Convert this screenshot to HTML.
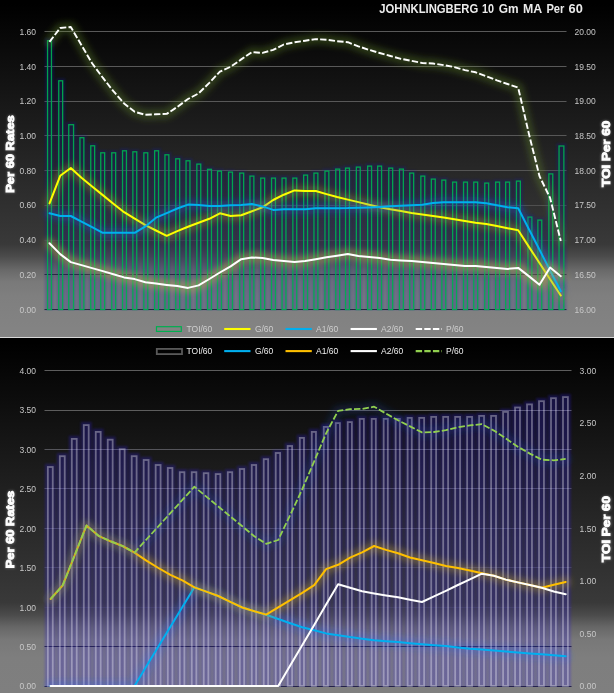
<!DOCTYPE html>
<html><head><meta charset="utf-8"><title>chart</title>
<style>
html,body{margin:0;padding:0;background:#000;}
body{width:614px;height:693px;overflow:hidden;font-family:"Liberation Sans", sans-serif;}
svg{display:block;font-family:"Liberation Sans", sans-serif;will-change:transform;opacity:0.999;}
</style></head><body>
<svg width="614" height="693" viewBox="0 0 614 693">
<defs>
<linearGradient id="bgT" gradientUnits="userSpaceOnUse" x1="0" y1="0" x2="0" y2="337">
<stop offset="0" stop-color="#000000"/>
<stop offset="0.725" stop-color="#3a3a3a"/>
<stop offset="0.76" stop-color="#4c4c4c"/>
<stop offset="0.80" stop-color="#696969"/>
<stop offset="0.835" stop-color="#7a7a7a"/>
<stop offset="0.88" stop-color="#808080"/>
<stop offset="1" stop-color="#858585"/>
</linearGradient>
<linearGradient id="bgB" gradientUnits="userSpaceOnUse" x1="0" y1="338" x2="0" y2="693">
<stop offset="0" stop-color="#000000"/>
<stop offset="0.745" stop-color="#3a3a3a"/>
<stop offset="0.78" stop-color="#4c4c4c"/>
<stop offset="0.815" stop-color="#686868"/>
<stop offset="0.85" stop-color="#797979"/>
<stop offset="0.90" stop-color="#7f7f7f"/>
<stop offset="1" stop-color="#808080"/>
</linearGradient>
<filter id="g3" x="-10%" y="-30%" width="120%" height="160%"><feGaussianBlur stdDeviation="3"/></filter>
<filter id="g2" x="-10%" y="-30%" width="120%" height="160%"><feGaussianBlur stdDeviation="1.8"/></filter>
<filter id="gb" x="-5%" y="-5%" width="110%" height="110%"><feGaussianBlur stdDeviation="2.2"/></filter>
<filter id="gs" x="-2%" y="-2%" width="104%" height="104%"><feGaussianBlur stdDeviation="0.9"/></filter>
<filter id="gs2" x="-2%" y="-2%" width="104%" height="104%"><feGaussianBlur stdDeviation="0.95"/></filter>
<clipPath id="clipB"><rect x="0" y="338" width="614" height="349"/></clipPath>
<clipPath id="clipT"><rect x="0" y="0" width="614" height="311"/></clipPath>
<filter id="gs3" x="-2%" y="-2%" width="104%" height="104%"><feGaussianBlur stdDeviation="1.0"/></filter>
<filter id="gt" x="-30%" y="-30%" width="160%" height="160%"><feGaussianBlur stdDeviation="1.2"/></filter>
</defs>
<rect x="0" y="0" width="614" height="337" fill="url(#bgT)"/>
<rect x="0" y="337" width="614" height="1" fill="#d9d9d9"/>
<rect x="0" y="338" width="614" height="355" fill="url(#bgB)"/>
<line x1="44.5" x2="566.5" y1="31.5" y2="31.5" stroke="#5a5a5a" stroke-width="1"/>
<line x1="44.5" x2="566.5" y1="66.5" y2="66.5" stroke="#5a5a5a" stroke-width="1"/>
<line x1="44.5" x2="566.5" y1="101.5" y2="101.5" stroke="#595959" stroke-width="1"/>
<line x1="44.5" x2="566.5" y1="135.5" y2="135.5" stroke="#585858" stroke-width="1"/>
<line x1="44.5" x2="566.5" y1="170.5" y2="170.5" stroke="#565656" stroke-width="1"/>
<line x1="44.5" x2="566.5" y1="205.5" y2="205.5" stroke="#505050" stroke-width="1"/>
<line x1="44.5" x2="566.5" y1="240.5" y2="240.5" stroke="#484848" stroke-width="1"/>
<line x1="44.5" x2="566.5" y1="274.5" y2="274.5" stroke="#2e2e38" stroke-width="1"/>
<line x1="44.5" x2="566.5" y1="309.5" y2="309.5" stroke="#2c2c36" stroke-width="1"/>
<g clip-path="url(#clipT)" fill="#101ca0" opacity="0.25" filter="url(#gs3)">
<rect x="44.90" y="38.1" width="9.20" height="272.4"/>
<rect x="56.10" y="78.2" width="9.20" height="232.3"/>
<rect x="66.10" y="122.1" width="10.10" height="188.4"/>
<rect x="77.30" y="135.1" width="9.20" height="175.4"/>
<rect x="88.10" y="143.2" width="9.20" height="167.3"/>
<rect x="98.10" y="150.2" width="9.20" height="160.3"/>
<rect x="109.10" y="150.2" width="9.20" height="160.3"/>
<rect x="119.90" y="148.2" width="9.20" height="162.3"/>
<rect x="130.20" y="149.2" width="9.20" height="161.3"/>
<rect x="141.20" y="150.2" width="9.20" height="160.3"/>
<rect x="152.00" y="148.2" width="9.20" height="162.3"/>
<rect x="162.30" y="152.2" width="9.20" height="158.3"/>
<rect x="173.10" y="156.2" width="9.20" height="154.3"/>
<rect x="183.40" y="158.2" width="9.20" height="152.3"/>
<rect x="194.20" y="161.5" width="9.20" height="149.0"/>
<rect x="204.90" y="166.7" width="9.20" height="143.8"/>
<rect x="214.90" y="168.5" width="9.20" height="142.0"/>
<rect x="225.90" y="169.5" width="9.20" height="141.0"/>
<rect x="237.10" y="170.5" width="9.20" height="140.0"/>
<rect x="247.30" y="173.5" width="9.20" height="137.0"/>
<rect x="258.10" y="175.5" width="9.20" height="135.0"/>
<rect x="268.90" y="175.5" width="9.20" height="135.0"/>
<rect x="279.40" y="175.5" width="9.20" height="135.0"/>
<rect x="290.20" y="175.5" width="9.20" height="135.0"/>
<rect x="301.00" y="172.5" width="9.20" height="138.0"/>
<rect x="311.30" y="170.5" width="9.20" height="140.0"/>
<rect x="322.30" y="168.5" width="9.20" height="142.0"/>
<rect x="333.10" y="166.5" width="9.20" height="144.0"/>
<rect x="342.90" y="165.5" width="9.20" height="145.0"/>
<rect x="353.70" y="164.5" width="9.20" height="146.0"/>
<rect x="365.00" y="163.5" width="9.20" height="147.0"/>
<rect x="375.00" y="163.5" width="9.20" height="147.0"/>
<rect x="386.10" y="165.5" width="9.20" height="145.0"/>
<rect x="396.80" y="166.5" width="9.20" height="144.0"/>
<rect x="407.10" y="170.5" width="9.20" height="140.0"/>
<rect x="418.20" y="173.5" width="9.20" height="137.0"/>
<rect x="428.70" y="176.5" width="9.20" height="134.0"/>
<rect x="439.20" y="177.5" width="9.20" height="133.0"/>
<rect x="450.00" y="179.5" width="9.20" height="131.0"/>
<rect x="460.90" y="179.5" width="9.20" height="131.0"/>
<rect x="471.10" y="179.5" width="9.20" height="131.0"/>
<rect x="482.10" y="180.5" width="9.20" height="130.0"/>
<rect x="493.00" y="179.5" width="9.20" height="131.0"/>
<rect x="503.00" y="179.5" width="9.20" height="131.0"/>
<rect x="513.80" y="178.5" width="9.20" height="132.0"/>
<rect x="525.30" y="214.5" width="9.20" height="96.0"/>
<rect x="535.20" y="217.5" width="9.20" height="93.0"/>
<rect x="546.20" y="171.3" width="9.20" height="139.2"/>
<rect x="556.40" y="143.4" width="10.10" height="167.1"/>
</g>
<g fill="none" stroke="#00b050" stroke-width="1.3" stroke-opacity="0.92">
<rect x="47.55" y="40.7" width="3.9" height="268.8"/>
<rect x="58.75" y="80.8" width="3.9" height="228.7"/>
<rect x="68.75" y="124.7" width="4.8" height="184.8"/>
<rect x="79.95" y="137.7" width="3.9" height="171.8"/>
<rect x="90.75" y="145.8" width="3.9" height="163.7"/>
<rect x="100.75" y="152.8" width="3.9" height="156.7"/>
<rect x="111.75" y="152.8" width="3.9" height="156.7"/>
<rect x="122.55" y="150.8" width="3.9" height="158.7"/>
<rect x="132.85" y="151.8" width="3.9" height="157.7"/>
<rect x="143.85" y="152.8" width="3.9" height="156.7"/>
<rect x="154.65" y="150.8" width="3.9" height="158.7"/>
<rect x="164.95" y="154.8" width="3.9" height="154.7"/>
<rect x="175.75" y="158.8" width="3.9" height="150.7"/>
<rect x="186.05" y="160.8" width="3.9" height="148.7"/>
<rect x="196.85" y="164.1" width="3.9" height="145.4"/>
<rect x="207.55" y="169.3" width="3.9" height="140.2"/>
<rect x="217.55" y="171.1" width="3.9" height="138.4"/>
<rect x="228.55" y="172.1" width="3.9" height="137.4"/>
<rect x="239.75" y="173.1" width="3.9" height="136.4"/>
<rect x="249.95" y="176.1" width="3.9" height="133.4"/>
<rect x="260.75" y="178.1" width="3.9" height="131.4"/>
<rect x="271.55" y="178.1" width="3.9" height="131.4"/>
<rect x="282.05" y="178.1" width="3.9" height="131.4"/>
<rect x="292.85" y="178.1" width="3.9" height="131.4"/>
<rect x="303.65" y="175.1" width="3.9" height="134.4"/>
<rect x="313.95" y="173.1" width="3.9" height="136.4"/>
<rect x="324.95" y="171.1" width="3.9" height="138.4"/>
<rect x="335.75" y="169.1" width="3.9" height="140.4"/>
<rect x="345.55" y="168.1" width="3.9" height="141.4"/>
<rect x="356.35" y="167.1" width="3.9" height="142.4"/>
<rect x="367.65" y="166.1" width="3.9" height="143.4"/>
<rect x="377.65" y="166.1" width="3.9" height="143.4"/>
<rect x="388.75" y="168.1" width="3.9" height="141.4"/>
<rect x="399.45" y="169.1" width="3.9" height="140.4"/>
<rect x="409.75" y="173.1" width="3.9" height="136.4"/>
<rect x="420.85" y="176.1" width="3.9" height="133.4"/>
<rect x="431.35" y="179.1" width="3.9" height="130.4"/>
<rect x="441.85" y="180.1" width="3.9" height="129.4"/>
<rect x="452.65" y="182.1" width="3.9" height="127.4"/>
<rect x="463.55" y="182.1" width="3.9" height="127.4"/>
<rect x="473.75" y="182.1" width="3.9" height="127.4"/>
<rect x="484.75" y="183.1" width="3.9" height="126.4"/>
<rect x="495.65" y="182.1" width="3.9" height="127.4"/>
<rect x="505.65" y="182.1" width="3.9" height="127.4"/>
<rect x="516.45" y="181.1" width="3.9" height="128.4"/>
<rect x="527.95" y="217.1" width="3.9" height="92.4"/>
<rect x="537.85" y="220.1" width="3.9" height="89.4"/>
<rect x="548.85" y="173.9" width="3.9" height="135.6"/>
<rect x="559.05" y="146.0" width="4.8" height="163.5"/>
</g>
<polyline points="49.5,203.4 60.2,175.8 70.8,168.0 81.5,177.8 92.1,186.5 102.8,195.1 113.4,203.7 124.1,212.2 134.7,218.7 145.4,225.2 156.0,230.5 166.7,235.8 177.3,231.1 188.0,226.8 198.6,222.8 209.3,218.8 219.9,213.3 230.6,216.0 241.2,215.2 251.9,211.3 262.5,207.3 273.2,200.0 283.8,194.7 294.5,190.4 305.1,190.9 315.8,191.0 326.5,194.1 337.1,197.0 347.8,199.6 358.4,202.1 369.1,204.7 379.7,207.3 390.4,209.2 401.0,211.1 411.7,213.0 422.3,214.5 433.0,216.0 443.6,217.5 454.3,219.2 464.9,221.0 475.6,222.8 486.2,224.0 496.9,226.1 507.5,228.2 518.2,230.3 528.8,246.6 539.5,263.0 550.1,279.3 560.8,295.5" fill="none" stroke="#b8b020" stroke-width="10" stroke-opacity="0.3" stroke-linejoin="round" stroke-linecap="round" filter="url(#g3)"/>
<polyline points="49.5,203.4 60.2,175.8 70.8,168.0 81.5,177.8 92.1,186.5 102.8,195.1 113.4,203.7 124.1,212.2 134.7,218.7 145.4,225.2 156.0,230.5 166.7,235.8 177.3,231.1 188.0,226.8 198.6,222.8 209.3,218.8 219.9,213.3 230.6,216.0 241.2,215.2 251.9,211.3 262.5,207.3 273.2,200.0 283.8,194.7 294.5,190.4 305.1,190.9 315.8,191.0 326.5,194.1 337.1,197.0 347.8,199.6 358.4,202.1 369.1,204.7 379.7,207.3 390.4,209.2 401.0,211.1 411.7,213.0 422.3,214.5 433.0,216.0 443.6,217.5 454.3,219.2 464.9,221.0 475.6,222.8 486.2,224.0 496.9,226.1 507.5,228.2 518.2,230.3 528.8,246.6 539.5,263.0 550.1,279.3 560.8,295.5" fill="none" stroke="#ffff00" stroke-width="2.0" stroke-linejoin="round" stroke-linecap="round"/>
<polyline points="49.5,213.2 60.2,216.0 70.8,216.0 81.5,221.6 92.1,227.2 102.8,232.8 113.4,232.8 124.1,232.8 134.7,232.8 145.4,226.4 156.0,217.7 166.7,213.2 177.3,208.5 188.0,204.6 198.6,205.0 209.3,205.9 219.9,205.9 230.6,205.3 241.2,204.9 251.9,204.0 262.5,206.4 273.2,209.9 283.8,209.3 294.5,209.2 305.1,209.2 315.8,208.2 326.5,208.2 337.1,208.2 347.8,208.1 358.4,207.7 369.1,207.4 379.7,206.9 390.4,206.3 401.0,205.8 411.7,205.3 422.3,204.7 433.0,203.1 443.6,202.3 454.3,202.2 464.9,202.2 475.6,202.2 486.2,203.3 496.9,205.2 507.5,207.2 518.2,208.2 528.8,229.0 539.5,249.8 550.1,270.6 560.8,291.2" fill="none" stroke="#2060e0" stroke-width="10" stroke-opacity="0.3" stroke-linejoin="round" stroke-linecap="round" filter="url(#g3)"/>
<polyline points="49.5,213.2 60.2,216.0 70.8,216.0 81.5,221.6 92.1,227.2 102.8,232.8 113.4,232.8 124.1,232.8 134.7,232.8 145.4,226.4 156.0,217.7 166.7,213.2 177.3,208.5 188.0,204.6 198.6,205.0 209.3,205.9 219.9,205.9 230.6,205.3 241.2,204.9 251.9,204.0 262.5,206.4 273.2,209.9 283.8,209.3 294.5,209.2 305.1,209.2 315.8,208.2 326.5,208.2 337.1,208.2 347.8,208.1 358.4,207.7 369.1,207.4 379.7,206.9 390.4,206.3 401.0,205.8 411.7,205.3 422.3,204.7 433.0,203.1 443.6,202.3 454.3,202.2 464.9,202.2 475.6,202.2 486.2,203.3 496.9,205.2 507.5,207.2 518.2,208.2 528.8,229.0 539.5,249.8 550.1,270.6 560.8,291.2" fill="none" stroke="#00b0f0" stroke-width="2.0" stroke-linejoin="round" stroke-linecap="round"/>
<polyline points="49.5,243.3 60.2,254.1 70.8,262.1 81.5,265.1 92.1,268.1 102.8,271.1 113.4,274.3 124.1,277.4 134.7,279.1 145.4,282.2 156.0,283.6 166.7,284.9 177.3,286.1 188.0,287.9 198.6,285.4 209.3,279.0 219.9,272.5 230.6,266.3 241.2,259.2 251.9,257.4 262.5,258.1 273.2,260.0 283.8,261.0 294.5,262.0 305.1,261.1 315.8,259.2 326.5,257.3 337.1,255.7 347.8,253.9 358.4,256.0 369.1,257.1 379.7,258.1 390.4,259.7 401.0,260.4 411.7,261.0 422.3,262.0 433.0,263.0 443.6,263.9 454.3,265.0 464.9,266.1 475.6,266.1 486.2,267.0 496.9,268.0 507.5,268.9 518.2,267.9 528.8,276.1 539.5,284.8 550.1,267.5 560.8,276.2" fill="none" stroke="#c8b848" stroke-width="10" stroke-opacity="0.42" stroke-linejoin="round" stroke-linecap="round" filter="url(#g3)"/>
<polyline points="49.5,243.3 60.2,254.1 70.8,262.1 81.5,265.1 92.1,268.1 102.8,271.1 113.4,274.3 124.1,277.4 134.7,279.1 145.4,282.2 156.0,283.6 166.7,284.9 177.3,286.1 188.0,287.9 198.6,285.4 209.3,279.0 219.9,272.5 230.6,266.3 241.2,259.2 251.9,257.4 262.5,258.1 273.2,260.0 283.8,261.0 294.5,262.0 305.1,261.1 315.8,259.2 326.5,257.3 337.1,255.7 347.8,253.9 358.4,256.0 369.1,257.1 379.7,258.1 390.4,259.7 401.0,260.4 411.7,261.0 422.3,262.0 433.0,263.0 443.6,263.9 454.3,265.0 464.9,266.1 475.6,266.1 486.2,267.0 496.9,268.0 507.5,268.9 518.2,267.9 528.8,276.1 539.5,284.8 550.1,267.5 560.8,276.2" fill="none" stroke="#ffffff" stroke-width="2.0" stroke-linejoin="round" stroke-linecap="round"/>
<polyline points="49.5,41.8 60.2,28.0 70.8,27.0 81.5,45.2 92.1,63.3 102.8,77.7 113.4,91.2 124.1,103.5 134.7,111.8 145.4,114.8 156.0,114.3 166.7,113.9 177.3,106.9 188.0,99.0 198.6,93.4 209.3,82.9 219.9,71.6 230.6,66.8 241.2,59.4 251.9,52.1 262.5,52.9 273.2,49.9 283.8,44.5 294.5,42.3 305.1,40.7 315.8,39.1 326.5,39.7 337.1,41.2 347.8,42.2 358.4,46.3 369.1,49.9 379.7,53.0 390.4,56.0 401.0,58.8 411.7,60.9 422.3,63.0 433.0,63.5 443.6,65.1 454.3,67.1 464.9,70.1 475.6,72.3 486.2,76.2 496.9,80.3 507.5,84.0 518.2,87.7 528.8,133.4 539.5,176.2 550.1,197.9 560.8,241.0" fill="none" stroke="#70a030" stroke-width="10" stroke-opacity="0.3" stroke-linejoin="round" stroke-linecap="round" filter="url(#g3)"/>
<polyline points="49.5,41.8 60.2,28.0 70.8,27.0 81.5,45.2 92.1,63.3 102.8,77.7 113.4,91.2 124.1,103.5 134.7,111.8 145.4,114.8 156.0,114.3 166.7,113.9 177.3,106.9 188.0,99.0 198.6,93.4 209.3,82.9 219.9,71.6 230.6,66.8 241.2,59.4 251.9,52.1 262.5,52.9 273.2,49.9 283.8,44.5 294.5,42.3 305.1,40.7 315.8,39.1 326.5,39.7 337.1,41.2 347.8,42.2 358.4,46.3 369.1,49.9 379.7,53.0 390.4,56.0 401.0,58.8 411.7,60.9 422.3,63.0 433.0,63.5 443.6,65.1 454.3,67.1 464.9,70.1 475.6,72.3 486.2,76.2 496.9,80.3 507.5,84.0 518.2,87.7 528.8,133.4 539.5,176.2 550.1,197.9 560.8,241.0" fill="none" stroke="#ffffff" stroke-width="1.9" stroke-linejoin="round" stroke-dasharray="6.4 2.2"/>
<text x="36.0" y="35" font-size="8.5" fill="#c8c8c8" text-anchor="end" font-weight="normal" >1.60</text>
<text x="574.5" y="35" font-size="8.5" fill="#c8c8c8" text-anchor="start" font-weight="normal" >20.00</text>
<text x="36.0" y="70" font-size="8.5" fill="#c8c8c8" text-anchor="end" font-weight="normal" >1.40</text>
<text x="574.5" y="70" font-size="8.5" fill="#c8c8c8" text-anchor="start" font-weight="normal" >19.50</text>
<text x="36.0" y="104" font-size="8.5" fill="#c8c8c8" text-anchor="end" font-weight="normal" >1.20</text>
<text x="574.5" y="104" font-size="8.5" fill="#c8c8c8" text-anchor="start" font-weight="normal" >19.00</text>
<text x="36.0" y="139" font-size="8.5" fill="#c8c8c8" text-anchor="end" font-weight="normal" >1.00</text>
<text x="574.5" y="139" font-size="8.5" fill="#c8c8c8" text-anchor="start" font-weight="normal" >18.50</text>
<text x="36.0" y="174" font-size="8.5" fill="#c8c8c8" text-anchor="end" font-weight="normal" >0.80</text>
<text x="574.5" y="174" font-size="8.5" fill="#c8c8c8" text-anchor="start" font-weight="normal" >18.00</text>
<text x="36.0" y="208" font-size="8.5" fill="#c8c8c8" text-anchor="end" font-weight="normal" >0.60</text>
<text x="574.5" y="208" font-size="8.5" fill="#c8c8c8" text-anchor="start" font-weight="normal" >17.50</text>
<text x="36.0" y="243" font-size="8.5" fill="#c8c8c8" text-anchor="end" font-weight="normal" >0.40</text>
<text x="574.5" y="243" font-size="8.5" fill="#c8c8c8" text-anchor="start" font-weight="normal" >17.00</text>
<text x="36.0" y="278" font-size="8.5" fill="#c8c8c8" text-anchor="end" font-weight="normal" >0.20</text>
<text x="574.5" y="278" font-size="8.5" fill="#c8c8c8" text-anchor="start" font-weight="normal" >16.50</text>
<text x="36.0" y="313" font-size="8.5" fill="#c8c8c8" text-anchor="end" font-weight="normal" >0.00</text>
<text x="574.5" y="313" font-size="8.5" fill="#c8c8c8" text-anchor="start" font-weight="normal" >16.00</text>
<text x="379.2" y="12.9" font-size="12.5" fill="#ececec" text-anchor="start" font-weight="bold" textLength="99.0" lengthAdjust="spacingAndGlyphs">JOHNKLINGBERG</text>
<text x="482.0" y="12.9" font-size="12.5" fill="#ececec" text-anchor="start" font-weight="bold" textLength="12.0" lengthAdjust="spacingAndGlyphs">10</text>
<text x="498.8" y="12.9" font-size="12.5" fill="#ececec" text-anchor="start" font-weight="bold" textLength="19.8" lengthAdjust="spacingAndGlyphs">Gm</text>
<text x="523.0" y="12.9" font-size="12.5" fill="#ececec" text-anchor="start" font-weight="bold" textLength="19.2" lengthAdjust="spacingAndGlyphs">MA</text>
<text x="546.4" y="12.9" font-size="12.5" fill="#ececec" text-anchor="start" font-weight="bold" textLength="18.0" lengthAdjust="spacingAndGlyphs">Per</text>
<text x="568.6" y="12.9" font-size="12.5" fill="#ececec" text-anchor="start" font-weight="bold" textLength="14.2" lengthAdjust="spacingAndGlyphs">60</text>
<text transform="translate(14.2,154) rotate(-90)" text-anchor="middle" font-size="11.5" font-weight="bold" textLength="77.5" lengthAdjust="spacingAndGlyphs" fill="#ffffff" stroke="#ffffff" stroke-width="2.0" opacity="0.25" filter="url(#gt)">Per 60 Rates</text>
<text transform="translate(14.2,154) rotate(-90)" text-anchor="middle" font-size="11.5" font-weight="bold" textLength="77.5" lengthAdjust="spacingAndGlyphs" fill="#ffffff" stroke="#ffffff" stroke-width="0.9">Per 60 Rates</text>
<text transform="translate(609.7,153.8) rotate(-90)" text-anchor="middle" font-size="11.5" font-weight="bold" textLength="65.8" lengthAdjust="spacingAndGlyphs" fill="#ffffff" stroke="#ffffff" stroke-width="2.0" opacity="0.25" filter="url(#gt)">TOI Per 60</text>
<text transform="translate(609.7,153.8) rotate(-90)" text-anchor="middle" font-size="11.5" font-weight="bold" textLength="65.8" lengthAdjust="spacingAndGlyphs" fill="#ffffff" stroke="#ffffff" stroke-width="0.9">TOI Per 60</text>
<rect x="156.5" y="326.7" width="24.8" height="4.7" fill="none" stroke="#00b050" stroke-width="1.2"/>
<text x="186.5" y="331.9" font-size="8.5" fill="#cfcfcf" text-anchor="start" font-weight="normal" >TOI/60</text>
<line x1="224.2" x2="250.5" y1="329" y2="329" stroke="#ffff00" stroke-width="2.1"/>
<text x="254.9" y="331.9" font-size="8.5" fill="#cfcfcf" text-anchor="start" font-weight="normal" >G/60</text>
<line x1="285.5" x2="311.8" y1="329" y2="329" stroke="#00b0f0" stroke-width="2.1"/>
<text x="316" y="331.9" font-size="8.5" fill="#cfcfcf" text-anchor="start" font-weight="normal" >A1/60</text>
<line x1="350.6" x2="376.9" y1="329" y2="329" stroke="#ffffff" stroke-width="2.1"/>
<text x="381" y="331.9" font-size="8.5" fill="#cfcfcf" text-anchor="start" font-weight="normal" >A2/60</text>
<line x1="415.7" x2="442" y1="329" y2="329" stroke="#ffffff" stroke-width="2.1" stroke-dasharray="6.4 2.2"/>
<text x="446.1" y="331.9" font-size="8.5" fill="#cfcfcf" text-anchor="start" font-weight="normal" >P/60</text>
<line x1="44.5" x2="571.5" y1="370.5" y2="370.5" stroke="#5e5e5e" stroke-width="1"/>
<line x1="44.5" x2="571.5" y1="410.5" y2="410.5" stroke="#5e5e5e" stroke-width="1"/>
<line x1="44.5" x2="571.5" y1="449.5" y2="449.5" stroke="#56565c" stroke-width="1"/>
<line x1="44.5" x2="571.5" y1="488.5" y2="488.5" stroke="#54545a" stroke-width="1"/>
<line x1="44.5" x2="571.5" y1="528.5" y2="528.5" stroke="#505058" stroke-width="1"/>
<line x1="44.5" x2="571.5" y1="567.5" y2="567.5" stroke="#4c4c54" stroke-width="1"/>
<line x1="44.5" x2="571.5" y1="607.5" y2="607.5" stroke="#4a4a52" stroke-width="1"/>
<line x1="44.5" x2="571.5" y1="646.5" y2="646.5" stroke="#24243a" stroke-width="1"/>
<line x1="44.5" x2="571.5" y1="686.5" y2="686.5" stroke="#24243a" stroke-width="1"/>
<g clip-path="url(#clipB)"><g fill="#3420e0" opacity="0.26" filter="url(#gs2)">
<rect x="44.85" y="463.8" width="10.90" height="223.2"/>
<rect x="56.83" y="453.0" width="10.90" height="234.0"/>
<rect x="68.81" y="435.7" width="10.90" height="251.3"/>
<rect x="80.79" y="421.9" width="10.90" height="265.1"/>
<rect x="92.77" y="428.7" width="10.90" height="258.3"/>
<rect x="104.75" y="436.5" width="10.90" height="250.5"/>
<rect x="116.73" y="446.0" width="10.90" height="241.0"/>
<rect x="128.71" y="453.0" width="10.90" height="234.0"/>
<rect x="140.69" y="456.8" width="10.90" height="230.2"/>
<rect x="152.67" y="461.8" width="10.90" height="225.2"/>
<rect x="164.80" y="464.8" width="10.60" height="222.2"/>
<rect x="176.78" y="469.1" width="10.60" height="217.9"/>
<rect x="188.76" y="469.1" width="10.60" height="217.9"/>
<rect x="200.74" y="470.1" width="10.60" height="216.9"/>
<rect x="212.72" y="470.9" width="10.60" height="216.1"/>
<rect x="224.80" y="469.1" width="10.40" height="217.9"/>
<rect x="236.78" y="465.8" width="10.40" height="221.2"/>
<rect x="248.76" y="461.8" width="10.40" height="225.2"/>
<rect x="260.74" y="456.1" width="10.40" height="230.9"/>
<rect x="272.72" y="449.8" width="10.40" height="237.2"/>
<rect x="284.70" y="442.8" width="10.40" height="244.2"/>
<rect x="296.81" y="434.7" width="10.15" height="252.3"/>
<rect x="308.79" y="428.7" width="10.15" height="258.3"/>
<rect x="320.77" y="423.7" width="10.15" height="263.3"/>
<rect x="332.75" y="419.9" width="10.15" height="267.1"/>
<rect x="344.73" y="418.9" width="10.15" height="268.1"/>
<rect x="356.71" y="415.7" width="10.15" height="271.3"/>
<rect x="368.69" y="415.7" width="10.15" height="271.3"/>
<rect x="380.67" y="415.7" width="10.15" height="271.3"/>
<rect x="392.65" y="415.7" width="10.15" height="271.3"/>
<rect x="404.63" y="414.7" width="10.15" height="272.3"/>
<rect x="416.23" y="414.7" width="10.90" height="272.3"/>
<rect x="428.21" y="413.7" width="10.90" height="273.3"/>
<rect x="440.19" y="413.7" width="10.90" height="273.3"/>
<rect x="452.17" y="413.7" width="10.90" height="273.3"/>
<rect x="464.15" y="413.7" width="10.90" height="273.3"/>
<rect x="476.13" y="412.7" width="10.90" height="274.3"/>
<rect x="488.11" y="412.7" width="10.90" height="274.3"/>
<rect x="500.09" y="408.7" width="10.90" height="278.3"/>
<rect x="512.07" y="404.3" width="10.90" height="282.7"/>
<rect x="524.05" y="401.2" width="10.90" height="285.8"/>
<rect x="536.03" y="398.0" width="10.90" height="289.0"/>
<rect x="548.01" y="395.0" width="10.90" height="292.0"/>
<rect x="559.99" y="393.9" width="10.90" height="293.1"/>
</g></g>
<g fill="none" stroke="#ffffff" stroke-opacity="0.34" stroke-width="1.8">
<rect x="47.85" y="467.0" width="4.9" height="219.0"/>
<rect x="59.83" y="456.2" width="4.9" height="229.8"/>
<rect x="71.81" y="438.9" width="4.9" height="247.2"/>
<rect x="83.79" y="425.1" width="4.9" height="260.9"/>
<rect x="95.77" y="431.9" width="4.9" height="254.2"/>
<rect x="107.75" y="439.7" width="4.9" height="246.3"/>
<rect x="119.73" y="449.2" width="4.9" height="236.8"/>
<rect x="131.71" y="456.2" width="4.9" height="229.8"/>
<rect x="143.69" y="460.0" width="4.9" height="226.0"/>
<rect x="155.67" y="465.0" width="4.9" height="221.0"/>
<rect x="167.80" y="468.0" width="4.6" height="218.0"/>
<rect x="179.78" y="472.2" width="4.6" height="213.8"/>
<rect x="191.76" y="472.2" width="4.6" height="213.8"/>
<rect x="203.74" y="473.2" width="4.6" height="212.8"/>
<rect x="215.72" y="474.1" width="4.6" height="212.0"/>
<rect x="227.80" y="472.2" width="4.4" height="213.8"/>
<rect x="239.78" y="469.0" width="4.4" height="217.0"/>
<rect x="251.76" y="465.0" width="4.4" height="221.0"/>
<rect x="263.74" y="459.2" width="4.4" height="226.8"/>
<rect x="275.72" y="453.0" width="4.4" height="233.0"/>
<rect x="287.70" y="446.0" width="4.4" height="240.0"/>
<rect x="299.81" y="437.9" width="4.15" height="248.2"/>
<rect x="311.79" y="431.9" width="4.15" height="254.2"/>
<rect x="323.77" y="426.9" width="4.15" height="259.1"/>
<rect x="335.75" y="423.1" width="4.15" height="262.9"/>
<rect x="347.73" y="422.1" width="4.15" height="263.9"/>
<rect x="359.71" y="418.9" width="4.15" height="267.1"/>
<rect x="371.69" y="418.9" width="4.15" height="267.1"/>
<rect x="383.67" y="418.9" width="4.15" height="267.1"/>
<rect x="395.65" y="418.9" width="4.15" height="267.1"/>
<rect x="407.63" y="417.9" width="4.15" height="268.1"/>
<rect x="419.23" y="417.9" width="4.9" height="268.1"/>
<rect x="431.21" y="416.9" width="4.9" height="269.1"/>
<rect x="443.19" y="416.9" width="4.9" height="269.1"/>
<rect x="455.17" y="416.9" width="4.9" height="269.1"/>
<rect x="467.15" y="416.9" width="4.9" height="269.1"/>
<rect x="479.13" y="415.9" width="4.9" height="270.1"/>
<rect x="491.11" y="415.9" width="4.9" height="270.1"/>
<rect x="503.09" y="411.9" width="4.9" height="274.1"/>
<rect x="515.07" y="407.5" width="4.9" height="278.5"/>
<rect x="527.05" y="404.4" width="4.9" height="281.6"/>
<rect x="539.03" y="401.2" width="4.9" height="284.8"/>
<rect x="551.01" y="398.2" width="4.9" height="287.8"/>
<rect x="562.99" y="397.1" width="4.9" height="288.9"/>
</g>
<g clip-path="url(#clipB)"><polyline points="50.6,686.0 62.6,686.0 74.6,686.0 86.5,686.0 98.5,686.0 110.5,686.0 122.5,686.0 134.5,686.0 146.4,666.3 158.4,646.5 170.4,626.8 182.4,607.0 194.4,587.3 206.3,591.6 218.3,596.0 230.3,601.8 242.3,607.5 254.3,611.2 266.2,614.8 278.2,619.0 290.2,623.2 302.2,627.2 314.2,630.3 326.1,633.4 338.1,635.2 350.1,637.1 362.1,638.7 374.1,640.3 386.0,641.2 398.0,642.1 410.0,643.2 422.0,644.2 434.0,645.2 445.9,646.1 457.9,647.5 469.9,648.7 481.9,649.6 493.9,650.6 505.8,651.5 517.8,652.4 529.8,653.4 541.8,654.3 553.8,655.3 565.7,656.2" fill="none" stroke="#2a6cf0" stroke-width="10" stroke-opacity="0.27" stroke-linejoin="round" stroke-linecap="round" filter="url(#g3)"/>
</g>
<polyline points="50.6,686.0 62.6,686.0 74.6,686.0 86.5,686.0 98.5,686.0 110.5,686.0 122.5,686.0 134.5,686.0 146.4,666.3 158.4,646.5 170.4,626.8 182.4,607.0 194.4,587.3 206.3,591.6 218.3,596.0 230.3,601.8 242.3,607.5 254.3,611.2 266.2,614.8 278.2,619.0 290.2,623.2 302.2,627.2 314.2,630.3 326.1,633.4 338.1,635.2 350.1,637.1 362.1,638.7 374.1,640.3 386.0,641.2 398.0,642.1 410.0,643.2 422.0,644.2 434.0,645.2 445.9,646.1 457.9,647.5 469.9,648.7 481.9,649.6 493.9,650.6 505.8,651.5 517.8,652.4 529.8,653.4 541.8,654.3 553.8,655.3 565.7,656.2" fill="none" stroke="#00b0f0" stroke-width="2.0" stroke-linejoin="round" stroke-linecap="round"/>
<polyline points="50.6,599.0 62.6,585.5 74.6,555.5 86.5,525.5 98.5,535.8 110.5,541.3 122.5,546.0 134.5,552.6 146.4,560.7 158.4,568.0 170.4,574.9 182.4,580.3 194.4,587.4 206.3,591.6 218.3,596.0 230.3,601.8 242.3,607.5 254.3,611.2 266.2,614.6 278.2,607.4 290.2,600.1 302.2,592.9 314.2,585.2 326.1,569.1 338.1,564.8 350.1,557.7 362.1,552.4 374.1,546.0 386.0,549.9 398.0,553.2 410.0,557.5 422.0,560.2 434.0,563.0 445.9,566.0 457.9,568.0 469.9,570.5 481.9,573.2 493.9,575.7 505.8,579.6 517.8,582.4 529.8,585.1 541.8,587.7 553.8,584.8 565.7,582.0" fill="none" stroke="#c8a830" stroke-width="10" stroke-opacity="0.35" stroke-linejoin="round" stroke-linecap="round" filter="url(#g3)"/>
<polyline points="50.6,599.0 62.6,585.5 74.6,555.5 86.5,525.5 98.5,535.8 110.5,541.3 122.5,546.0 134.5,552.6 146.4,560.7 158.4,568.0 170.4,574.9 182.4,580.3 194.4,587.4 206.3,591.6 218.3,596.0 230.3,601.8 242.3,607.5 254.3,611.2 266.2,614.6 278.2,607.4 290.2,600.1 302.2,592.9 314.2,585.2 326.1,569.1 338.1,564.8 350.1,557.7 362.1,552.4 374.1,546.0 386.0,549.9 398.0,553.2 410.0,557.5 422.0,560.2 434.0,563.0 445.9,566.0 457.9,568.0 469.9,570.5 481.9,573.2 493.9,575.7 505.8,579.6 517.8,582.4 529.8,585.1 541.8,587.7 553.8,584.8 565.7,582.0" fill="none" stroke="#ffc000" stroke-width="2.0" stroke-linejoin="round" stroke-linecap="round"/>
<polyline points="50.6,686.0 62.6,686.0 74.6,686.0 86.5,686.0 98.5,686.0 110.5,686.0 122.5,686.0 134.5,686.0 146.4,686.0 158.4,686.0 170.4,686.0 182.4,686.0 194.4,686.0 206.3,686.0 218.3,686.0 230.3,686.0 242.3,686.0 254.3,686.0 266.2,686.0 278.2,686.0 290.2,665.6 302.2,645.2 314.2,624.9 326.1,604.5 338.1,584.2 350.1,587.8 362.1,591.3 374.1,593.4 386.0,595.4 398.0,597.3 410.0,599.7 422.0,602.0 434.0,596.4 445.9,590.8 457.9,585.0 469.9,579.4 481.9,573.7 493.9,575.7 505.8,579.6 517.8,582.4 529.8,585.1 541.8,587.7 553.8,591.5 565.7,594.2" fill="none" stroke="#ffffff" stroke-width="2.0" stroke-linejoin="round" stroke-linecap="round"/>
<polyline points="50.6,599.0 62.6,585.5 74.6,555.5 86.5,525.5 98.5,535.8 110.5,541.3 122.5,546.0 134.5,552.6 146.4,539.5 158.4,526.3 170.4,513.1 182.4,499.9 194.4,486.7 206.3,496.6 218.3,506.5 230.3,516.4 242.3,526.3 254.3,536.3 266.2,543.8 278.2,540.0 290.2,515.1 302.2,489.3 314.2,461.3 326.1,433.3 338.1,410.8 350.1,409.2 362.1,408.9 374.1,406.7 386.0,413.5 398.0,420.3 410.0,426.4 422.0,432.4 434.0,432.0 445.9,430.2 457.9,427.2 469.9,425.4 481.9,424.1 493.9,430.6 505.8,438.5 517.8,446.7 529.8,453.6 541.8,459.7 553.8,460.3 565.7,458.9" fill="none" stroke="#2a50c0" stroke-width="10" stroke-opacity="0.2" stroke-linejoin="round" stroke-linecap="round" filter="url(#g3)"/>
<polyline points="50.6,599.0 62.6,585.5 74.6,555.5 86.5,525.5 98.5,535.8 110.5,541.3 122.5,546.0 134.5,552.6 146.4,539.5 158.4,526.3 170.4,513.1 182.4,499.9 194.4,486.7 206.3,496.6 218.3,506.5 230.3,516.4 242.3,526.3 254.3,536.3 266.2,543.8 278.2,540.0 290.2,515.1 302.2,489.3 314.2,461.3 326.1,433.3 338.1,410.8 350.1,409.2 362.1,408.9 374.1,406.7 386.0,413.5 398.0,420.3 410.0,426.4 422.0,432.4 434.0,432.0 445.9,430.2 457.9,427.2 469.9,425.4 481.9,424.1 493.9,430.6 505.8,438.5 517.8,446.7 529.8,453.6 541.8,459.7 553.8,460.3 565.7,458.9" fill="none" stroke="#92d050" stroke-width="1.8" stroke-linejoin="round" stroke-dasharray="6.4 2.2"/>
<text x="36.0" y="374" font-size="8.5" fill="#c8c8c8" text-anchor="end" font-weight="normal" >4.00</text>
<text x="36.0" y="413" font-size="8.5" fill="#c8c8c8" text-anchor="end" font-weight="normal" >3.50</text>
<text x="36.0" y="453" font-size="8.5" fill="#c8c8c8" text-anchor="end" font-weight="normal" >3.00</text>
<text x="36.0" y="492" font-size="8.5" fill="#c8c8c8" text-anchor="end" font-weight="normal" >2.50</text>
<text x="36.0" y="532" font-size="8.5" fill="#c8c8c8" text-anchor="end" font-weight="normal" >2.00</text>
<text x="36.0" y="571" font-size="8.5" fill="#c8c8c8" text-anchor="end" font-weight="normal" >1.50</text>
<text x="36.0" y="611" font-size="8.5" fill="#c8c8c8" text-anchor="end" font-weight="normal" >1.00</text>
<text x="36.0" y="650" font-size="8.5" fill="#c8c8c8" text-anchor="end" font-weight="normal" >0.50</text>
<text x="36.0" y="689" font-size="8.5" fill="#c8c8c8" text-anchor="end" font-weight="normal" >0.00</text>
<text x="579.6" y="374" font-size="8.5" fill="#c8c8c8" text-anchor="start" font-weight="normal" >3.00</text>
<text x="579.6" y="426" font-size="8.5" fill="#c8c8c8" text-anchor="start" font-weight="normal" >2.50</text>
<text x="579.6" y="479" font-size="8.5" fill="#c8c8c8" text-anchor="start" font-weight="normal" >2.00</text>
<text x="579.6" y="532" font-size="8.5" fill="#c8c8c8" text-anchor="start" font-weight="normal" >1.50</text>
<text x="579.6" y="584" font-size="8.5" fill="#c8c8c8" text-anchor="start" font-weight="normal" >1.00</text>
<text x="579.6" y="637" font-size="8.5" fill="#c8c8c8" text-anchor="start" font-weight="normal" >0.50</text>
<text x="579.6" y="689" font-size="8.5" fill="#c8c8c8" text-anchor="start" font-weight="normal" >0.00</text>
<text transform="translate(14.2,529.5) rotate(-90)" text-anchor="middle" font-size="11.5" font-weight="bold" textLength="77.5" lengthAdjust="spacingAndGlyphs" fill="#ffffff" stroke="#ffffff" stroke-width="2.0" opacity="0.25" filter="url(#gt)">Per 60 Rates</text>
<text transform="translate(14.2,529.5) rotate(-90)" text-anchor="middle" font-size="11.5" font-weight="bold" textLength="77.5" lengthAdjust="spacingAndGlyphs" fill="#ffffff" stroke="#ffffff" stroke-width="0.9">Per 60 Rates</text>
<text transform="translate(610.4,529.0) rotate(-90)" text-anchor="middle" font-size="11.5" font-weight="bold" textLength="65.8" lengthAdjust="spacingAndGlyphs" fill="#ffffff" stroke="#ffffff" stroke-width="2.0" opacity="0.25" filter="url(#gt)">TOI Per 60</text>
<text transform="translate(610.4,529.0) rotate(-90)" text-anchor="middle" font-size="11.5" font-weight="bold" textLength="65.8" lengthAdjust="spacingAndGlyphs" fill="#ffffff" stroke="#ffffff" stroke-width="0.9">TOI Per 60</text>
<rect x="156.8" y="348.9" width="25.2" height="5.2" fill="none" stroke="#5a5a5a" stroke-width="1.8"/>
<text x="186.5" y="354.0" font-size="8.5" fill="#f0f0f0" text-anchor="start" font-weight="normal" >TOI/60</text>
<line x1="224.2" x2="250.5" y1="351.1" y2="351.1" stroke="#00b0f0" stroke-width="2.1"/>
<text x="254.9" y="354.0" font-size="8.5" fill="#f0f0f0" text-anchor="start" font-weight="normal" >G/60</text>
<line x1="285.5" x2="311.8" y1="351.1" y2="351.1" stroke="#ffc000" stroke-width="2.1"/>
<text x="316" y="354.0" font-size="8.5" fill="#f0f0f0" text-anchor="start" font-weight="normal" >A1/60</text>
<line x1="350.6" x2="376.9" y1="351.1" y2="351.1" stroke="#ffffff" stroke-width="2.1"/>
<text x="381" y="354.0" font-size="8.5" fill="#f0f0f0" text-anchor="start" font-weight="normal" >A2/60</text>
<line x1="415.7" x2="442" y1="351.1" y2="351.1" stroke="#92d050" stroke-width="2.1" stroke-dasharray="6.4 2.2"/>
<text x="446.1" y="354.0" font-size="8.5" fill="#f0f0f0" text-anchor="start" font-weight="normal" >P/60</text>
</svg>
</body></html>
